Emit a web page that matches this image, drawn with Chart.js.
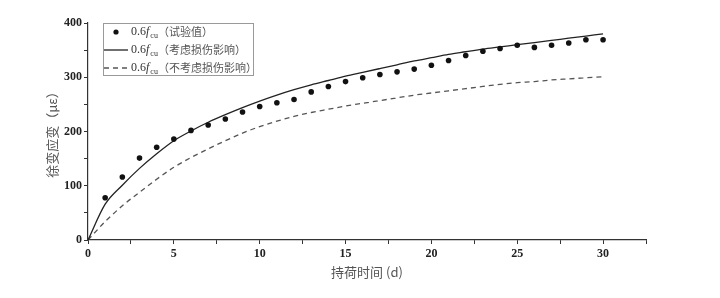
<!DOCTYPE html>
<html>
<head>
<meta charset="utf-8">
<script src="https://cdn.jsdelivr.net/npm/chart.js@4/dist/chart.umd.min.js"></script>
<style>
    html, body { margin: 0; padding: 0; background: #fff; }
    #wrap { width: 720px; height: 298px; }
</style>
</head>
<body>
<div id="wrap"><canvas id="myCreepChart" width="720" height="298"></canvas></div>
<script>
// loading time in days
var days = [0, 1, 2, 3, 4, 5, 6, 7, 8, 9, 10, 11, 12, 13, 14, 15, 16, 17, 18, 19, 20, 21, 22, 23, 24, 25, 26, 27, 28, 29, 30];
var testDays = days.slice(1);

// 0.6fcu measured values (με)
var testValues = [78, 116, 151, 171, 186, 202, 212, 223, 236, 246, 253, 259, 273, 283, 292, 299, 305, 310, 315, 322, 331, 340, 348, 353, 359, 355, 359, 363, 369, 369];

// 0.6fcu model, damage considered
var withDamage = [0, 66, 101, 132, 159, 183, 201, 217, 231, 244, 256, 267, 277, 286, 294, 302, 309, 316, 323, 330, 336, 342, 347, 352, 356, 360, 364, 368, 372, 376, 380];

// 0.6fcu model, damage not considered
var withoutDamage = [0, 34, 63, 88, 112, 134, 152, 168, 183, 197, 209, 219, 228, 235, 241, 247, 252, 257, 262, 267, 271, 275, 279, 283, 287, 290, 292, 295, 297, 299, 301];

var legendLabels = ['（试验值）', '（考虑损伤影响）', '（不考虑损伤影响）'];
var xTitle = '持荷时间 (d)';
var yTitle = '徐变应变（με）';

function toPoints(xs, ys) {
    return xs.map(function(x, i) {
        return {x: x, y: ys[i]};
    });
}

var serif = '"Liberation Serif", "Times New Roman", serif';
var cjk = '"Noto Sans CJK SC", sans-serif';

// legend drawn by hand so that f can be italic and cu a subscript
var customLegend = {
    id: 'customLegend',
    afterDraw: function(chart) {
        var ctx = chart.ctx;
        var area = chart.chartArea;
        var left = area.left + 15;
        var top = area.top;
        var rows = [top + 9, top + 27, top + 45];

        ctx.save();
        ctx.strokeStyle = '#9a9a9a';
        ctx.lineWidth = 1;
        ctx.strokeRect(left + 0.5, top + 0.5, 150, 52);

        rows.forEach(function(y, i) {
            ctx.strokeStyle = i === 1 ? '#222' : '#555';
            ctx.fillStyle = '#111';
            if (i === 0) {
                ctx.beginPath();
                ctx.arc(left + 13, y, 2.6, 0, Math.PI * 2);
                ctx.fill();
            } else {
                ctx.lineWidth = 1.3;
                ctx.setLineDash(i === 2 ? [5, 4] : []);
                ctx.beginPath();
                ctx.moveTo(left + 1, y);
                ctx.lineTo(left + 25, y);
                ctx.stroke();
                ctx.setLineDash([]);
            }

            var x = left + 28;
            ctx.fillStyle = '#333';
            ctx.textBaseline = 'middle';
            ctx.font = '12px ' + serif;
            ctx.fillText('0.6', x, y);
            x += ctx.measureText('0.6').width;
            ctx.font = 'italic 12px ' + serif;
            ctx.fillText('f', x, y);
            x += ctx.measureText('f').width + 1;
            ctx.font = '8px ' + serif;
            ctx.fillText('cu', x, y + 4);
            x += ctx.measureText('cu').width;
            ctx.font = '11px ' + cjk;
            ctx.fillStyle = '#555';
            ctx.fillText(legendLabels[i], x, y);
        });
        ctx.restore();
    }
};

var ctx = document.getElementById('myCreepChart').getContext('2d');
new Chart(ctx, {
    type: 'scatter',
    plugins: [customLegend],
    data: {
        datasets: [
            {
                data: toPoints(testDays, testValues),
                showLine: false,
                pointRadius: 2.8,
                pointBackgroundColor: '#111',
                pointBorderColor: '#111',
                pointBorderWidth: 0
            },
            {
                data: toPoints(days, withDamage),
                showLine: true,
                borderColor: '#222',
                borderWidth: 1.3,
                pointRadius: 0,
                cubicInterpolationMode: 'monotone'
            },
            {
                data: toPoints(days, withoutDamage),
                showLine: true,
                borderColor: '#555',
                borderWidth: 1.3,
                borderDash: [5, 4],
                pointRadius: 0,
                cubicInterpolationMode: 'monotone'
            }
        ]
    },
    options: {
        responsive: false,
        animation: false,
        layout: {
            padding: {left: 40, right: 74, top: 23, bottom: 0}
        },
        plugins: {
            legend: {display: false},
            tooltip: {enabled: false}
        },
        scales: {
            x: {
                type: 'linear',
                min: 0,
                max: 32.5,
                afterFit: function(scale) {
                    scale.height = 58;
                },
                border: {color: '#333', width: 1.2},
                grid: {
                    drawOnChartArea: false,
                    drawTicks: true,
                    tickLength: 4,
                    color: '#333'
                },
                ticks: {
                    stepSize: 2.5,
                    autoSkip: false,
                    maxRotation: 0,
                    padding: 3,
                    color: '#222',
                    font: {family: serif, size: 12, weight: 'bold'},
                    callback: function(value) {
                        return value % 5 === 0 ? value : '';
                    }
                },
                title: {
                    display: true,
                    text: xTitle,
                    color: '#555',
                    font: {family: cjk, size: 13},
                    padding: {top: 0, bottom: 18}
                }
            },
            y: {
                min: 0,
                max: 400,
                afterFit: function(scale) {
                    scale.width = 48;
                },
                border: {color: '#333', width: 1.2},
                grid: {
                    drawOnChartArea: false,
                    drawTicks: true,
                    tickLength: 4,
                    color: '#333'
                },
                ticks: {
                    stepSize: 50,
                    autoSkip: false,
                    padding: 2,
                    color: '#222',
                    font: {family: serif, size: 12, weight: 'bold'},
                    callback: function(value) {
                        return value % 100 === 0 ? value : '';
                    }
                },
                title: {
                    display: true,
                    text: yTitle,
                    color: '#555',
                    font: {family: cjk, size: 13},
                    padding: {top: 4, bottom: 0}
                }
            }
        }
    }
});
</script>
</body>
</html>
